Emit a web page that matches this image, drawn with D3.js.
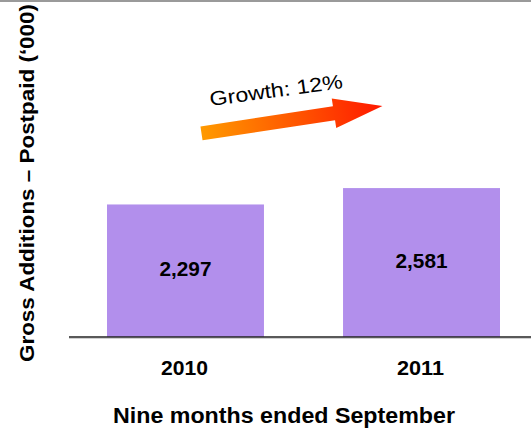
<!DOCTYPE html>
<html>
<head>
<meta charset="utf-8">
<script src="https://cdn.jsdelivr.net/npm/d3@7"></script>
<style>
  body { margin: 0; background: #fff; }
  svg { display: block; font-family: "Liberation Sans", Arial, sans-serif; }
</style>
</head>
<body>
<div id="chart"></div>
<script>
var svgWidth = 531;
var svgHeight = 429;

// data
var years = ["2010", "2011"];
var grossAdds = [2297, 2581];
var growthLabel = "Growth: 12%";

var svg = d3.select("#chart")
  .append("svg")
  .attr("width", svgWidth)
  .attr("height", svgHeight);

// thin grey strip at the very top
svg.append("rect")
  .attr("x", 0).attr("y", 0)
  .attr("width", svgWidth).attr("height", 2)
  .attr("fill", "#9a9a9a");

var baseY = 337;

var xScale = d3.scaleBand()
  .domain(years)
  .range([107, 500])
  .paddingInner(0.335)
  .paddingOuter(0);

var yScale = d3.scaleLinear()
  .domain([0, 5000])
  .range([baseY, baseY - 288.5]);

var bars = svg.append("g");

bars.selectAll("rect")
  .data(grossAdds)
  .enter()
  .append("rect")
  .attr("x", (d, i) => xScale(years[i]))
  .attr("y", d => yScale(d))
  .attr("width", xScale.bandwidth())
  .attr("height", d => baseY - yScale(d))
  .attr("fill", "#b28fec");

// value labels, a bit above the middle of each bar
bars.selectAll("text")
  .data(grossAdds)
  .enter()
  .append("text")
  .attr("x", (d, i) => xScale(years[i]) + xScale.bandwidth() / 2)
  .attr("y", d => (yScale(d) + baseY) / 2 - 2)
  .attr("dy", "0.36em")
  .attr("text-anchor", "middle")
  .attr("font-size", "21px")
  .attr("font-weight", "bold")
  .attr("textLength", 52)
  .attr("lengthAdjust", "spacingAndGlyphs")
  .attr("fill", "#000")
  .text(d => d3.format(",")(d));

// baseline with soft shadow
svg.append("line")
  .attr("x1", 69).attr("x2", svgWidth)
  .attr("y1", baseY + 1.5).attr("y2", baseY + 1.5)
  .attr("stroke", "#d0d0d0").attr("stroke-width", 1);
svg.append("line")
  .attr("x1", 69).attr("x2", svgWidth)
  .attr("y1", baseY).attr("y2", baseY)
  .attr("stroke", "#222").attr("stroke-width", 1.5);

// year labels
svg.append("g").selectAll("text")
  .data(years)
  .enter()
  .append("text")
  .attr("x", d => xScale(d) + xScale.bandwidth() / 2 - 1)
  .attr("y", 375)
  .attr("text-anchor", "middle")
  .attr("font-size", "20.5px")
  .attr("font-weight", "bold")
  .attr("textLength", 47)
  .attr("lengthAdjust", "spacingAndGlyphs")
  .text(d => d);

svg.append("text")
  .attr("x", 284)
  .attr("y", 423)
  .attr("text-anchor", "middle")
  .attr("font-size", "22.5px")
  .attr("font-weight", "bold")
  .attr("textLength", 342)
  .attr("lengthAdjust", "spacingAndGlyphs")
  .text("Nine months ended September");

svg.append("text")
  .attr("transform", "translate(33.5,183)rotate(-90)")
  .attr("text-anchor", "middle")
  .attr("font-size", "20.5px")
  .attr("font-weight", "bold")
  .attr("textLength", 358)
  .attr("lengthAdjust", "spacingAndGlyphs")
  .text("Gross Additions \u2013 Postpaid  (\u2018000)");

// growth arrow
var defs = svg.append("defs");
var grad = defs.append("linearGradient")
  .attr("id", "arrowGrad")
  .attr("x1", "0%").attr("x2", "100%")
  .attr("y1", "0%").attr("y2", "0%");
grad.append("stop").attr("offset", "0%").attr("stop-color", "#ff9a00");
grad.append("stop").attr("offset", "100%").attr("stop-color", "#ff1800");

var arrowLen = 183, shaft = 14, headW = 30, headL = 49;
var arrow = svg.append("g")
  .attr("transform", "translate(201.5,133.3)rotate(-8.6)");
arrow.append("path")
  .attr("d", d3.line()([
    [0, -shaft / 2],
    [arrowLen - headL, -shaft / 2],
    [arrowLen - headL, -headW / 2],
    [arrowLen, 0],
    [arrowLen - headL, headW / 2],
    [arrowLen - headL, shaft / 2],
    [0, shaft / 2]
  ]) + "Z")
  .attr("fill", "url(#arrowGrad)");

svg.append("text")
  .attr("transform", "translate(277,97)rotate(-7.8)")
  .attr("text-anchor", "middle")
  .attr("font-size", "20px")
  .attr("textLength", 134)
  .attr("lengthAdjust", "spacingAndGlyphs")
  .text(growthLabel);
</script>
</body>
</html>
